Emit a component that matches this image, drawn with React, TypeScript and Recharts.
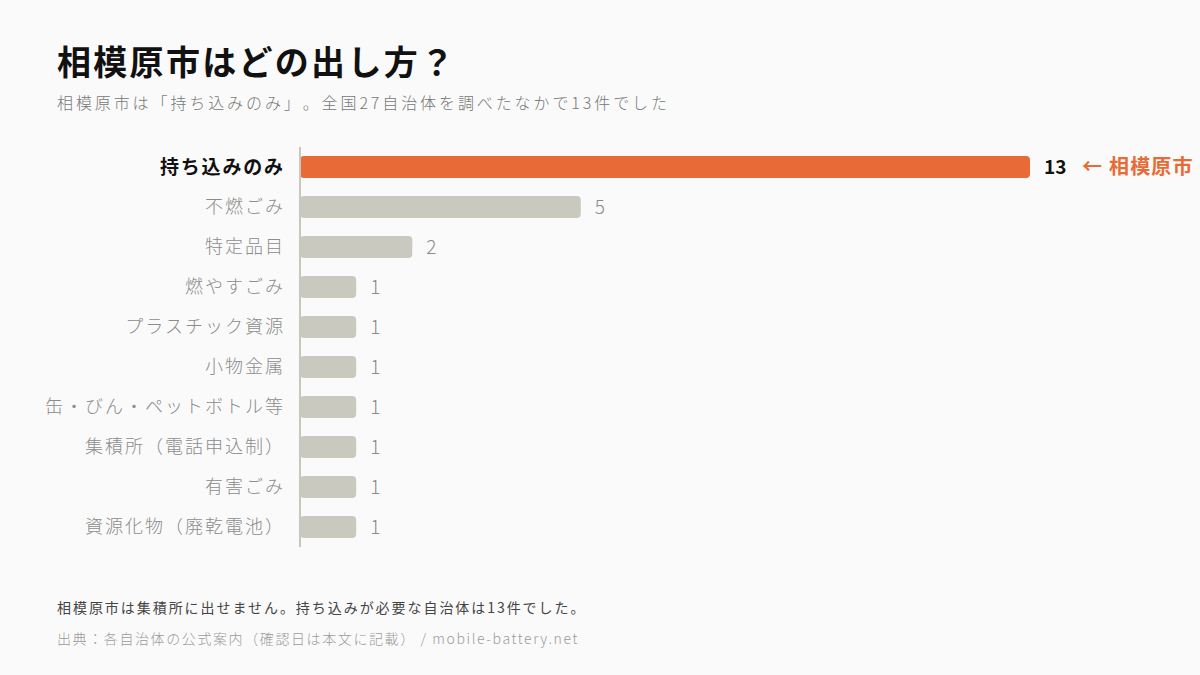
import React from "react";
import { BarChart, Bar, XAxis, YAxis, Cell, LabelList } from "recharts";

const categories = [
  "持ち込みのみ",
  "不燃ごみ",
  "特定品目",
  "燃やすごみ",
  "プラスチック資源",
  "小物金属",
  "缶・びん・ペットボトル等",
  "集積所（電話申込制）",
  "有害ごみ",
  "資源化物（廃乾電池）",
];
const counts = [13, 5, 2, 1, 1, 1, 1, 1, 1, 1];
const highlightIndex = 0;
const highlightNote = "← 相模原市";

const data = categories.map((name, i) => ({ name, count: counts[i] }));

const FONT = '"Noto Sans CJK JP", "Noto Sans", sans-serif';
const ORANGE = "#e86a36";
const BAR_GRAY = "#cac9c0";
const LABEL_GRAY = "#8c8c8c";

function CategoryTick(props: any) {
  const { x, y, payload, index } = props;
  const hi = index === highlightIndex;
  const ls = hi ? 1.8 : 2;
  return (
    <text
      x={x + ls}
      y={y}
      dy="0.35em"
      textAnchor="end"
      fontFamily={FONT}
      fontSize={hi ? 19 : 18}
      letterSpacing={ls}
      fontWeight={hi ? 700 : 300}
      fill={hi ? "#111" : LABEL_GRAY}
      style={{ textSpacingTrim: "space-all" } as any}
    >
      {payload.value}
    </text>
  );
}

function ValueLabel(props: any) {
  const { x, y, width, height, value, index } = props;
  const hi = index === highlightIndex;
  const tx = x + width + 14;
  const ty = y + height / 2;
  return (
    <g fontFamily={FONT}>
      <text
        x={tx}
        y={ty}
        dy="0.35em"
        fontSize={19}
        fontWeight={hi ? 700 : 300}
        fill={hi ? "#111" : LABEL_GRAY}
      >
        {value}
      </text>
      {hi && (
        <text
          x={tx + 38}
          y={ty}
          dy="0.35em"
          fontSize={20}
          letterSpacing={1.2}
          fontWeight={700}
          fill={ORANGE}
        >
          {highlightNote}
        </text>
      )}
    </g>
  );
}

export default function App() {
  return (
    <div
      style={{
        position: "relative",
        width: 1200,
        height: 675,
        background: "#fafafa",
        fontFamily: FONT,
        overflow: "hidden",
        textSpacingTrim: "space-all",
      } as any}
    >
      <style>{"body{margin:0}"}</style>
      <div
        style={{
          position: "absolute",
          left: 57,
          top: 38,
          fontSize: 34,
          fontWeight: 700,
          letterSpacing: 2.3,
          color: "#111",
          lineHeight: "46px",
        }}
      >
        相模原市はどの出し方？
      </div>
      <div
        style={{
          position: "absolute",
          left: 57,
          top: 90,
          fontSize: 16,
          fontWeight: 300,
          letterSpacing: 2.9,
          color: "#777",
          lineHeight: "24px",
        }}
      >
        相模原市は「持ち込みのみ」。全国27自治体を調べたなかで13件でした
      </div>

      <div style={{ position: "absolute", left: 0, top: 0 }}>
        <BarChart
          width={1200}
          height={675}
          data={data}
          layout="vertical"
          margin={{ top: 147, right: 170, bottom: 128, left: 0 }}
          barCategoryGap={18}
        >
          <XAxis type="number" domain={[0, 13]} hide />
          <YAxis
            type="category"
            dataKey="name"
            width={300}
            tickLine={false}
            tickSize={0}
            tickMargin={17}
            axisLine={{ stroke: "#c9c7bd", strokeWidth: 2 }}
            tick={<CategoryTick />}
            interval={0}
          />
          <Bar dataKey="count" barSize={22} radius={4} isAnimationActive={false}>
            {data.map((d, i) => (
              <Cell key={d.name} fill={i === highlightIndex ? ORANGE : BAR_GRAY} />
            ))}
            <LabelList dataKey="count" content={<ValueLabel />} />
          </Bar>
        </BarChart>
      </div>

      <div
        style={{
          position: "absolute",
          left: 57,
          top: 597,
          fontSize: 14,
          letterSpacing: 1.95,
          color: "#444",
          lineHeight: "20px",
        }}
      >
        相模原市は集積所に出せません。持ち込みが必要な自治体は13件でした。
      </div>
      <div
        style={{
          position: "absolute",
          left: 57,
          top: 628,
          fontSize: 14,
          fontWeight: 300,
          letterSpacing: 1.6,
          color: "#9a9a9a",
          lineHeight: "20px",
        }}
      >
        出典：各自治体の公式案内（確認日は本文に記載） / mobile-battery.net
      </div>
    </div>
  );
}
